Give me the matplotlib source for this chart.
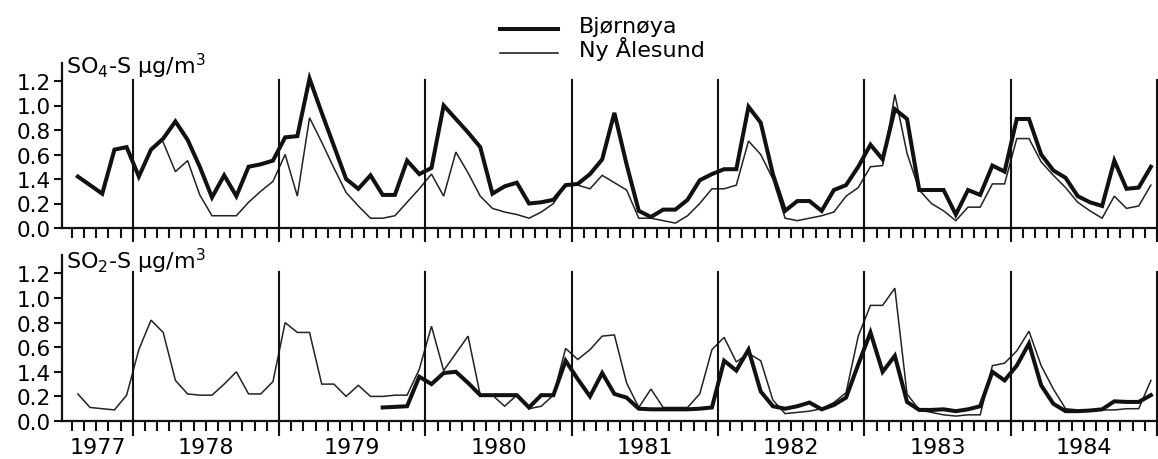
import numpy as np
import matplotlib
matplotlib.use("Agg")
import matplotlib.pyplot as plt
from matplotlib.lines import Line2D

nan = np.nan

# Monthly means, August 1977 .. December 1984 (one row per year)
first_month = 7  # months counted from January 1977
so4_bjornoya = [
    0.42, 0.35, 0.28, 0.64, 0.66,
    0.42, 0.64, 0.73, 0.87, 0.72, 0.50, 0.25, 0.43, 0.26, 0.50, 0.52, 0.55,
    0.74, 0.75, 1.22, 0.94, 0.67, 0.40, 0.32, 0.43, 0.27, 0.27, 0.55, 0.44,
    0.49, 1.00, 0.89, 0.78, 0.66, 0.28, 0.34, 0.37, 0.20, 0.21, 0.23, 0.35,
    0.36, 0.44, 0.56, 0.94, 0.52, 0.14, 0.09, 0.15, 0.15, 0.23, 0.39, 0.44,
    0.48, 0.48, 0.99, 0.86, 0.44, 0.14, 0.22, 0.22, 0.14, 0.31, 0.35, 0.50,
    0.68, 0.56, 0.97, 0.89, 0.31, 0.31, 0.31, 0.11, 0.31, 0.27, 0.51, 0.46,
    0.89, 0.89, 0.60, 0.47, 0.41, 0.26, 0.21, 0.18, 0.55, 0.32, 0.33, 0.50,
]
so4_ny_alesund = [
    nan, nan, nan, nan, nan,
    nan, nan, 0.70, 0.46, 0.55, 0.27, 0.10, 0.10, 0.10, 0.21, 0.30, 0.38,
    0.60, 0.26, 0.90, 0.70, 0.49, 0.29, 0.18, 0.08, 0.08, 0.10, 0.21, 0.32,
    0.44, 0.26, 0.62, 0.45, 0.26, 0.16, 0.13, 0.11, 0.08, 0.13, 0.20, 0.35,
    0.35, 0.32, 0.43, 0.37, 0.31, 0.08, 0.08, 0.06, 0.04, 0.10, 0.20, 0.32,
    0.32, 0.35, 0.71, 0.60, 0.40, 0.08, 0.06, 0.08, 0.10, 0.13, 0.26, 0.33,
    0.50, 0.51, 1.09, 0.61, 0.31, 0.20, 0.14, 0.06, 0.17, 0.17, 0.36, 0.36,
    0.73, 0.73, 0.54, 0.43, 0.33, 0.21, 0.14, 0.08, 0.26, 0.16, 0.18, 0.35,
]
so2_bjornoya = [
    nan, nan, nan, nan, nan,
    nan, nan, nan, nan, nan, nan, nan, nan, nan, nan, nan, nan,
    nan, nan, nan, nan, nan, nan, nan, nan, 0.11, 0.115, 0.12, 0.36,
    0.30, 0.39, 0.40, 0.31, 0.21, 0.21, 0.21, 0.21, 0.11, 0.21, 0.21, 0.49,
    0.34, 0.20, 0.39, 0.22, 0.19, 0.10, 0.095, 0.095, 0.095, 0.095, 0.10, 0.11,
    0.49, 0.41, 0.58, 0.24, 0.12, 0.10, 0.12, 0.15, 0.095, 0.13, 0.19, 0.46,
    0.72, 0.40, 0.53, 0.155, 0.09, 0.09, 0.095, 0.08, 0.095, 0.12, 0.40, 0.33,
    0.45, 0.63, 0.29, 0.14, 0.08, 0.08, 0.085, 0.095, 0.16, 0.155, 0.155, 0.21,
]
so2_ny_alesund = [
    0.22, 0.11, 0.10, 0.09, 0.21,
    0.58, 0.82, 0.72, 0.33, 0.22, 0.21, 0.21, 0.30, 0.40, 0.22, 0.22, 0.32,
    0.80, 0.72, 0.72, 0.30, 0.30, 0.20, 0.29, 0.20, 0.20, 0.21, 0.21, 0.42,
    0.77, 0.41, 0.55, 0.69, 0.21, 0.21, 0.12, 0.21, 0.10, 0.12, 0.21, 0.59,
    0.50, 0.58, 0.69, 0.70, 0.31, 0.11, 0.26, 0.11, 0.11, 0.11, 0.22, 0.58,
    0.68, 0.48, 0.55, 0.49, 0.17, 0.06, 0.07, 0.08, 0.10, 0.15, 0.23, 0.69,
    0.94, 0.94, 1.08, 0.22, 0.09, 0.07, 0.05, 0.04, 0.05, 0.05, 0.45, 0.47,
    0.57, 0.73, 0.45, 0.26, 0.10, 0.09, 0.09, 0.09, 0.09, 0.10, 0.10, 0.33,
]

years = [1977, 1978, 1979, 1980, 1981, 1982, 1983, 1984]
ytick_values = [0.0, 0.2, 0.4, 0.6, 0.8, 1.0, 1.2]
ytick_labels = ["0.0", "0.2", "1.4", "0.6", "0.8", "1.0", "1.2"]
series_names = ["Bjørnøya", "Ny Ålesund"]
panel_titles = [r"SO$_4$-S µg/m$^3$", r"SO$_2$-S µg/m$^3$"]

W, H = 1158, 460
plt.rcParams["font.family"] = ["DejaVu Sans"]
plt.rcParams["mathtext.fontset"] = "dejavusans"

fig = plt.figure(figsize=(W / 100, H / 100), dpi=100)
fig.patch.set_facecolor("white")

xmin, xmax = 6.2, 96.0
ymax = 1.35
left_px, right_px = 62, 1157


def px(x, y):
    return x / W, 1 - y / H


def make_axes(zero_y, px_per_unit):
    height = ymax * px_per_unit
    return fig.add_axes([left_px / W, (H - zero_y) / H,
                         (right_px - left_px) / W, height / H])


ax_top = make_axes(229, 122.5)
ax_bot = make_axes(422, 123.0)

x = first_month + np.arange(len(so4_bjornoya)) + 0.5
bold_kw = dict(color="#111111", lw=2.9, solid_joinstyle="miter", zorder=4)
thin_kw = dict(color="#222222", lw=1.1, solid_joinstyle="miter", zorder=3)

panels = [
    (ax_top, so4_bjornoya, so4_ny_alesund),
    (ax_bot, so2_bjornoya, so2_ny_alesund),
]

for ax, bj, ny in panels:
    ax.plot(x, np.array(ny, dtype=float), **thin_kw)
    ax.plot(x, np.array(bj, dtype=float), **bold_kw)
    ax.set_xlim(xmin, xmax)
    ax.set_ylim(0, ymax)
    for side in ("top", "right"):
        ax.spines[side].set_visible(False)
    for side in ("left", "bottom"):
        ax.spines[side].set_linewidth(1.6)
        ax.spines[side].set_color("#111111")
    ax.set_yticks(ytick_values)
    ax.set_yticklabels(ytick_labels)
    month_ticks = np.arange(int(np.ceil(xmin)), int(xmax) + 1)
    ax.set_xticks(month_ticks)
    ax.set_xticklabels([])
    ax.tick_params(axis="x", direction="out", length=7, width=1.5,
                   color="#111111")
    ax.tick_params(axis="y", direction="out", length=6, width=1.5,
                   labelsize=15.5, pad=2, color="#111111")
    # year boundaries
    for yb in range(12, 97, 12):
        ax.plot([yb, yb], [-0.11, 1.21], color="#111111", lw=1.5,
                clip_on=False, zorder=5)
    ax.set_facecolor("none")

# year labels under the lower panel
for yr in years:
    start = (yr - 1977) * 12
    centre = (max(start, xmin) + min(start + 12, xmax)) / 2
    ax_bot.text(centre, -0.215, str(yr), ha="center", va="center",
                fontsize=16, clip_on=False)

# panel titles
fig.text(*px(66, 66), panel_titles[0], ha="left", va="center", fontsize=16)
fig.text(*px(66, 261), panel_titles[1], ha="left", va="center", fontsize=16)

# legend
for (ly, lw, name, ty) in [(30, 2.9, series_names[0], 33),
                           (54, 1.1, series_names[1], 57)]:
    x0, y0 = px(500, ly)
    x1, _ = px(558, ly)
    fig.add_artist(Line2D([x0, x1], [y0, y0], color="#111111", lw=lw,
                          transform=fig.transFigure))
    fig.text(*px(579, ty), name, ha="left", va="baseline", fontsize=16)

fig.savefig("out.png", dpi=100, facecolor="white")
